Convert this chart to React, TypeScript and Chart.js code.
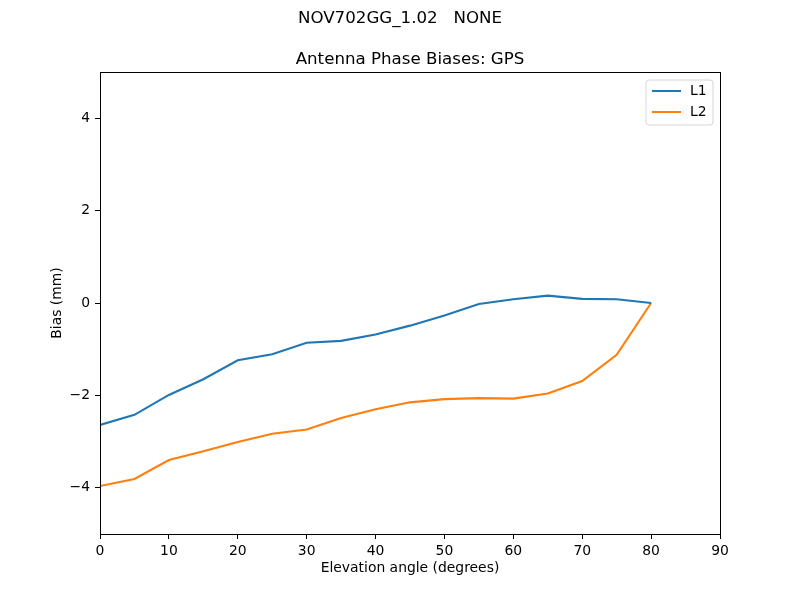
import React, { useEffect, useRef } from "react";
import { Chart, registerables } from "chart.js";

Chart.register(...registerables);

const suptitle = "NOV702GG_1.02   NONE";
const title = "Antenna Phase Biases: GPS";
const xLabel = "Elevation angle (degrees)";
const yLabel = "Bias (mm)";

const elevation = [0, 5, 10, 15, 20, 25, 30, 35, 40, 45, 50, 55, 60, 65, 70, 75, 80];
const l1 = [-2.64, -2.42, -1.99, -1.65, -1.24, -1.11, -0.86, -0.82, -0.68, -0.49, -0.27, -0.02, 0.08, 0.16, 0.09, 0.08, 0.0];
const l2 = [-3.96, -3.81, -3.4, -3.21, -3.01, -2.83, -2.74, -2.49, -2.3, -2.15, -2.08, -2.06, -2.07, -1.96, -1.69, -1.12, 0.0];

const seriesNames = ["L1", "L2"];
const seriesColors = ["#1f77b4", "#ff7f0e"];

const xTicks = [0, 10, 20, 30, 40, 50, 60, 70, 80, 90];
const yTicks = [-4, -2, 0, 2, 4];

const FONT = "'DejaVu Sans', sans-serif";
const fmt = (v: number) => (v < 0 ? "\u2212" + Math.abs(v) : String(v));

const decorPlugin = {
  id: "decor",
  afterDraw(chart: any) {
    const ctx = chart.ctx as CanvasRenderingContext2D;
    const a = chart.chartArea;
    ctx.save();
    // frame
    ctx.strokeStyle = "#000";
    ctx.lineWidth = 1;
    ctx.strokeRect(Math.round(a.left) + 0.5, Math.round(a.top) + 0.5, Math.round(a.right - a.left), Math.round(a.bottom - a.top));
    // titles
    ctx.fillStyle = "#000";
    ctx.textAlign = "center";
    ctx.font = `16.67px ${FONT}`;
    ctx.textBaseline = "top";
    ctx.fillText(suptitle, 400, 10);
    ctx.textBaseline = "alphabetic";
    ctx.fillText(title, (a.left + a.right) / 2, a.top - 8);
    // axis labels
    ctx.font = `13.9px ${FONT}`;
    ctx.textBaseline = "top";
    ctx.fillText(xLabel, (a.left + a.right) / 2, 561);
    ctx.save();
    ctx.translate(57, (a.top + a.bottom) / 2);
    ctx.rotate(-Math.PI / 2);
    ctx.textBaseline = "middle";
    ctx.fillText(yLabel, 0, 0);
    ctx.restore();
    // legend
    const lx = 646, ly = 80, lw = 67, lh = 45, r = 3;
    ctx.beginPath();
    ctx.moveTo(lx + r, ly);
    ctx.lineTo(lx + lw - r, ly);
    ctx.quadraticCurveTo(lx + lw, ly, lx + lw, ly + r);
    ctx.lineTo(lx + lw, ly + lh - r);
    ctx.quadraticCurveTo(lx + lw, ly + lh, lx + lw - r, ly + lh);
    ctx.lineTo(lx + r, ly + lh);
    ctx.quadraticCurveTo(lx, ly + lh, lx, ly + lh - r);
    ctx.lineTo(lx, ly + r);
    ctx.quadraticCurveTo(lx, ly, lx + r, ly);
    ctx.closePath();
    ctx.fillStyle = "rgba(255,255,255,0.8)";
    ctx.fill();
    ctx.strokeStyle = "#d6d6d6";
    ctx.lineWidth = 1;
    ctx.stroke();
    ctx.textAlign = "left";
    ctx.textBaseline = "middle";
    ctx.font = `13.9px ${FONT}`;
    seriesNames.forEach((name, i) => {
      const y = 91 + i * 21;
      ctx.strokeStyle = seriesColors[i];
      ctx.lineWidth = 2;
      ctx.beginPath();
      ctx.moveTo(652, y);
      ctx.lineTo(681, y);
      ctx.stroke();
      ctx.fillStyle = "#000";
      ctx.fillText(name, 690, y);
    });
    ctx.restore();
  },
};

export default function App() {
  const ref = useRef<HTMLCanvasElement>(null);
  useEffect(() => {
    document.body.style.margin = "0";
    const chart = new Chart(ref.current!, {
      type: "line",
      data: {
        datasets: [l1, l2].map((vals, i) => ({
          label: seriesNames[i],
          data: elevation.map((x, j) => ({ x, y: vals[j] })),
          borderColor: seriesColors[i],
          backgroundColor: seriesColors[i],
          borderWidth: 2.1,
          pointRadius: 0,
          tension: 0,
          fill: false,
        })),
      },
      options: {
        animation: false,
        responsive: false,
        devicePixelRatio: 1,
        layout: { padding: { top: 72, right: 80, left: 0, bottom: 0 } },
        plugins: { legend: { display: false }, title: { display: false }, tooltip: { enabled: false } },
        scales: {
          x: {
            type: "linear",
            min: 0,
            max: 90,
            afterBuildTicks: (s: any) => {
              s.ticks = xTicks.map((v) => ({ value: v }));
            },
            afterFit: (s: any) => {
              s.height = 66;
            },
            grid: { drawOnChartArea: false, drawTicks: true, tickLength: 5, color: "#000", lineWidth: 1 },
            border: { display: true, color: "#000", width: 1 },
            ticks: { color: "#000", font: { family: FONT, size: 13.9 }, padding: 4, maxRotation: 0, autoSkip: false, callback: (v: any) => fmt(Number(v)) },
          },
          y: {
            type: "linear",
            min: -5,
            max: 5,
            afterBuildTicks: (s: any) => {
              s.ticks = yTicks.map((v) => ({ value: v }));
            },
            afterFit: (s: any) => {
              s.width = 100;
            },
            grid: { drawOnChartArea: false, drawTicks: true, tickLength: 5, color: "#000", lineWidth: 1 },
            border: { display: true, color: "#000", width: 1 },
            ticks: { color: "#000", font: { family: FONT, size: 13.9 }, padding: 5, autoSkip: false, callback: (v: any) => fmt(Number(v)) },
          },
        },
      },
      plugins: [decorPlugin],
    } as any);
    return () => chart.destroy();
  }, []);
  return (
    <div style={{ position: "fixed", left: 0, top: 0, width: 800, height: 600, background: "#fff" }}>
      <canvas ref={ref} width={800} height={600} />
    </div>
  );
}
